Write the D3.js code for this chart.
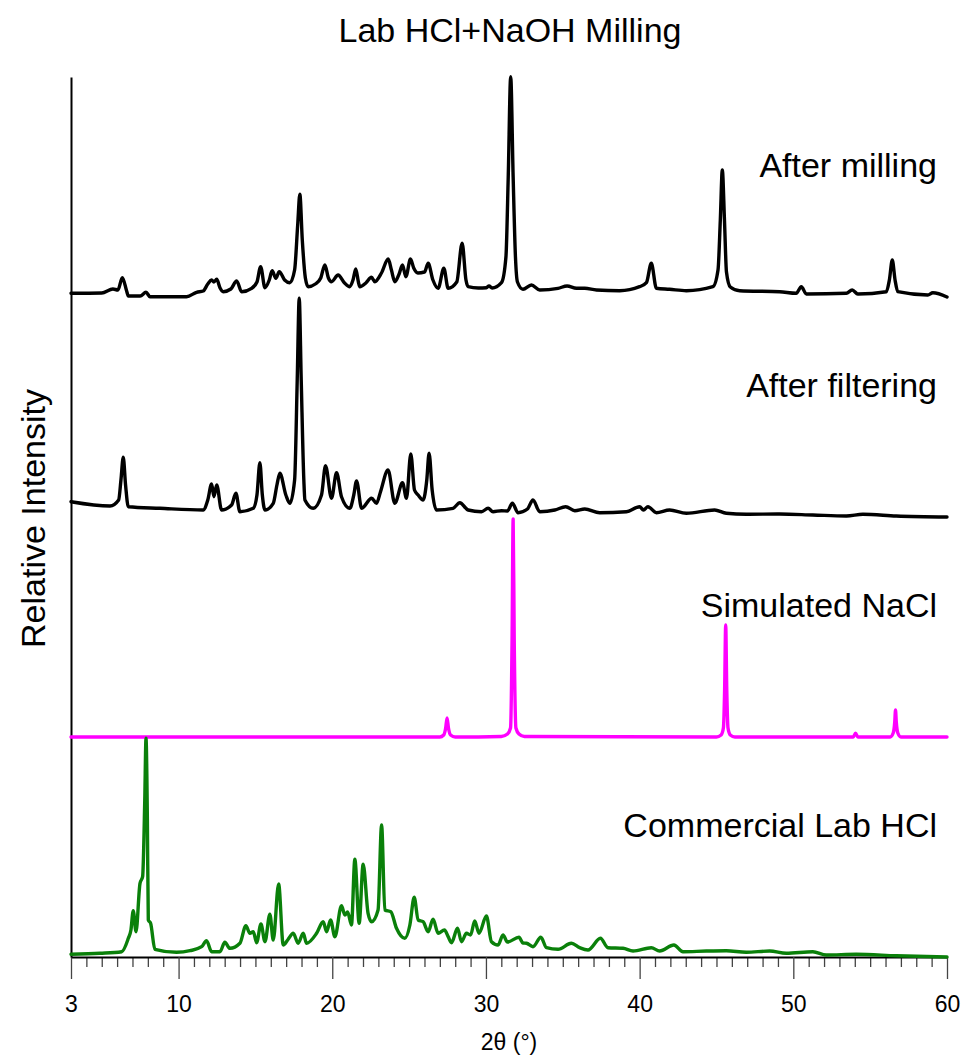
<!DOCTYPE html>
<html lang="en">
<head>
  <meta charset="UTF-8">
  <title>Lab HCl+NaOH Milling</title>
  <script src="https://d3js.org/d3.v7.min.js"></script>
  <style>
    body {
      margin: 0;
      background: #fff;
    }

    text {
      font-family: "Liberation Sans", Arial, sans-serif;
      fill: #000;
    }

    .trace {
      fill: none;
      stroke-width: 3.4;
      stroke-linejoin: round;
      stroke-linecap: round;
    }
  </style>
</head>
<body>
  <div id="chart"></div>

  <script>
    // 2θ (deg), intensity above each pattern's own baseline
    const millingData = [
      [3.0, 3.7], [5.0, 4], [5.73, 8], [6.05, 7], [6.34, 19.3], [6.62, 6], [6.73, 1],
      [7.5, 1], [7.88, 4.7], [8.14, 0.3], [10.52, 0.3], [11.17, 4.7], [11.6, 6],
      [11.9, 13], [12.15, 17], [12.3, 15], [12.48, 17.7], [12.7, 9], [12.9, 5.3],
      [13.4, 8], [13.78, 16], [14.1, 5.3], [14.75, 8.7], [15.1, 15], [15.34, 30.3],
      [15.62, 9.3], [15.9, 17], [16.09, 26.3], [16.33, 18.7], [16.55, 25.3], [16.9, 17],
      [17.24, 14.3], [17.55, 27], [17.75, 72], [17.89, 102.7], [18.05, 57], [18.25, 19],
      [18.43, 10.3], [18.9, 13], [19.25, 19], [19.52, 32], [19.75, 19], [19.95, 15.3],
      [20.38, 22], [20.8, 14], [21.14, 10.3], [21.35, 17], [21.53, 28], [21.7, 15],
      [21.79, 10.3], [22.2, 14.3], [22.55, 19.7], [22.77, 15.3], [23.2, 24], [23.64, 38],
      [23.85, 27], [24.07, 15.3], [24.35, 23], [24.57, 32], [24.79, 20.3], [25.09, 38],
      [25.3, 29], [25.57, 24], [26.0, 25], [26.24, 33.7], [26.55, 17], [26.89, 8.7],
      [27.26, 28.7], [27.54, 8.7], [28.1, 15], [28.45, 53.7], [28.7, 17], [28.84, 10.3],
      [29.5, 9], [30.03, 9.3], [30.2, 11], [30.4, 9], [31.01, 14.3], [31.3, 40],
      [31.45, 120], [31.61, 220.3], [31.77, 120], [31.92, 40], [32.05, 15], [32.41, 7.7],
      [32.96, 12], [33.5, 7], [34.69, 8.7], [35.28, 11], [35.89, 8.7], [36.43, 8.7],
      [37.19, 7], [38.7, 6.3], [40.0, 10.3], [40.44, 14.3], [40.76, 33.7], [41.09, 8.7],
      [41.95, 7.7], [43.04, 6.3], [44.77, 10.3], [45.1, 27], [45.25, 77], [45.38, 127],
      [45.52, 77], [45.65, 25], [45.9, 10], [46.51, 6.3], [49.11, 5.3], [50.19, 3.7],
      [50.52, 10.3], [50.85, 3], [53.45, 3.7], [53.83, 7], [54.2, 3], [56.05, 5.3],
      [56.25, 17], [56.44, 37], [56.62, 17], [56.8, 5.3], [58.75, 2], [59.08, 4.3],
      [60.0, 0]
    ];

    const filteringData = [
      [3.0, 15.3], [5.54, 11], [6.1, 17], [6.25, 37], [6.4, 59.7], [6.55, 32], [6.73, 10.3],
      [8.79, 8.7], [11.6, 7], [11.9, 17], [12.15, 33], [12.3, 20.3], [12.48, 32], [12.8, 7],
      [13.45, 12], [13.73, 23.7], [13.99, 5.3], [14.86, 8.7], [15.1, 22], [15.29, 54.3],
      [15.45, 22], [15.62, 7], [16.16, 13.7], [16.4, 32], [16.59, 43.7], [16.98, 22],
      [17.24, 13.7], [17.55, 37], [17.72, 137], [17.85, 218.7], [17.98, 137], [18.15, 37],
      [18.22, 17], [18.76, 8.7], [19.3, 22], [19.56, 51.3], [19.95, 18.7], [20.28, 44.3],
      [20.6, 20.3], [21.14, 8.7], [21.4, 22], [21.58, 36], [21.91, 8.7], [22.56, 18.7],
      [22.88, 13.7], [23.14, 25.3], [23.63, 47], [24.07, 13.7], [24.57, 34.3], [24.83, 18.7],
      [25.11, 63], [25.35, 27], [25.59, 22], [25.91, 17], [26.15, 37], [26.3, 63.7],
      [26.5, 27], [26.78, 7], [27.86, 8.7], [28.3, 14.3], [28.84, 7], [29.71, 5.3],
      [30.14, 8.7], [30.46, 5.3], [31.01, 6.3], [31.4, 6], [31.72, 13.7], [32.09, 4.3],
      [32.7, 8], [33.06, 17], [33.5, 5.3], [34.48, 7], [35.19, 10.3], [35.78, 6.3],
      [36.43, 8], [37.4, 4.3], [39.14, 5.3], [40.0, 10.3], [40.25, 7], [40.54, 10.3],
      [41.09, 4.3], [41.95, 7], [43.04, 3.7], [44.88, 7], [45.64, 3.7], [46.94, 2.7],
      [49.11, 3], [51.27, 2], [53.45, 1], [54.53, 2.7], [56.7, 1], [60.0, 0]
    ];

    const naclData = [
      [3.0, 0], [27.0, 0], [27.25, 2], [27.38, 9], [27.47, 19], [27.56, 9], [27.7, 2],
      [28.0, 0], [31.0, 0.5], [31.4, 3], [31.6, 9], [31.7, 97], [31.77, 218], [31.84, 97],
      [31.95, 9], [32.15, 3], [32.5, 0.5], [45.0, 0], [45.3, 2], [45.45, 9], [45.53, 47],
      [45.6, 112], [45.67, 47], [45.75, 9], [45.9, 2], [46.2, 0], [53.9, 0], [54.05, 3.7],
      [54.2, 0], [56.3, 0], [56.5, 4], [56.6, 15], [56.65, 27], [56.7, 15], [56.8, 4],
      [57.0, 0], [60.0, 0]
    ];

    const commercialData = [
      [3.0, 2.7], [4.89, 3.7], [6.3, 5.3], [6.73, 18.7], [6.9, 27], [7.05, 46.3],
      [7.23, 25.3], [7.49, 73.7], [7.66, 80.3], [7.8, 157], [7.88, 218.7], [7.97, 137],
      [8.03, 37], [8.18, 33.7], [8.46, 7.7], [9.87, 4.7], [10.74, 6.3], [11.5, 10.3],
      [11.82, 16.3], [12.15, 5.3], [12.69, 5.3], [13.01, 14.7], [13.34, 8.7], [13.99, 13.7],
      [14.38, 31.3], [14.64, 23.7], [14.86, 25.3], [15.08, 14.3], [15.36, 33], [15.62, 15.3],
      [15.94, 42.7], [16.16, 17], [16.51, 73], [16.81, 12], [17.1, 17], [17.46, 23.7],
      [17.78, 13.7], [18.11, 23.7], [18.33, 13.7], [18.98, 23.7], [19.41, 35.3],
      [19.63, 25.3], [19.89, 37], [20.17, 20.3], [20.6, 51.3], [20.82, 42], [21.0, 45],
      [21.25, 32], [21.47, 97.7], [21.75, 33.7], [22.01, 92.7], [22.33, 43.7], [22.56, 35.3],
      [22.98, 47], [23.21, 132], [23.42, 47], [23.81, 45.3], [24.18, 28.7], [24.72, 18.7],
      [25.05, 32], [25.33, 59.7], [25.59, 37], [25.91, 35.3], [26.24, 25.3], [26.56, 37.7],
      [26.89, 23.7], [27.3, 27], [27.54, 20.3], [27.76, 14.3], [28.15, 28.7], [28.41, 15.3],
      [28.73, 23.7], [29.0, 22], [29.27, 36], [29.55, 23.7], [30.03, 41], [30.36, 15.3],
      [30.79, 12], [31.11, 22], [31.4, 15], [32.15, 19.7], [32.41, 14], [32.64, 13.7],
      [33.06, 10.3], [33.57, 19.7], [33.94, 9.3], [34.69, 7.7], [35.56, 13.7], [36.1, 9.3],
      [36.64, 7], [37.45, 18.7], [37.94, 9.3], [38.92, 8.7], [39.57, 6], [40.76, 9.3],
      [41.3, 6], [42.23, 12], [42.82, 5.3], [44.34, 6], [45.64, 6.3], [46.94, 4.7],
      [48.46, 6], [49.54, 3.7], [51.27, 5.3], [52.14, 2], [54.09, 2.7], [56.7, 1.3],
      [60.0, 0]
    ];

    const seriesNames = ["After milling", "After filtering", "Simulated NaCl", "Commercial Lab HCl"];
    const seriesOffsets = [660, 440, 220, 0];
    const seriesColors = ["#000000", "#000000", "#ff00ff", "#0a800a"];
    const seriesData = [millingData, filteringData, naclData, commercialData];

    const majorTicks = [3, 10, 20, 30, 40, 50, 60];
    const minorTicks = d3.range(4, 60).filter(d => d % 10 !== 0);

    const width = 969;
    const height = 1056;
    const margin = { top: 77, right: 22, bottom: 99, left: 71 };

    const svg = d3.select("#chart")
      .append("svg")
      .attr("width", width)
      .attr("height", height);

    const xScale = d3.scaleLinear()
      .domain([3, 60])
      .range([margin.left, width - margin.right]);

    const yScale = d3.scaleLinear()
      .domain([0, 880])
      .range([height - margin.bottom, margin.top]);

    // minor ticks first, then the major axis on top
    svg.append("g")
      .attr("transform", `translate(0, ${height - margin.bottom})`)
      .call(d3.axisBottom(xScale).tickValues(minorTicks).tickSize(10).tickFormat(""))
      .call(g => g.select(".domain").remove())
      .call(g => g.selectAll(".tick line").attr("stroke", "#444").attr("stroke-width", 1.3));

    const xAxis = svg.append("g")
      .attr("transform", `translate(0, ${height - margin.bottom})`)
      .call(d3.axisBottom(xScale).tickValues(majorTicks).tickSize(22).tickPadding(17)
        .tickFormat(d3.format("d")).tickSizeOuter(0));

    xAxis.select(".domain").attr("stroke", "#000").attr("stroke-width", 2);
    xAxis.selectAll(".tick line").attr("stroke", "#444").attr("stroke-width", 1.3);
    xAxis.selectAll(".tick text")
      .style("font-family", "'Liberation Sans', Arial, sans-serif")
      .style("font-size", "23px")
      .attr("fill", "#000");

    const yAxis = svg.append("g")
      .attr("transform", `translate(${margin.left}, 0)`)
      .call(d3.axisLeft(yScale).tickValues([]).tickSizeOuter(0));

    yAxis.select(".domain").attr("stroke", "#000").attr("stroke-width", 2);

    const line = d3.line()
      .curve(d3.curveMonotoneX)
      .x(d => xScale(d[0]))
      .y(d => yScale(d[1]));

    seriesData.forEach((data, i) => {
      svg.append("path")
        .datum(data.map(d => [d[0], d[1] + seriesOffsets[i]]))
        .attr("class", "trace")
        .attr("stroke", seriesColors[i])
        .attr("d", line);

      svg.append("text")
        .attr("x", xScale(60) - 10)
        .attr("y", yScale(seriesOffsets[i] + 120))
        .attr("text-anchor", "end")
        .style("font-size", "34px")
        .text(seriesNames[i]);
    });

    svg.append("text")
      .attr("x", 510)
      .attr("y", 42)
      .attr("text-anchor", "middle")
      .style("font-size", "34px")
      .text("Lab HCl+NaOH Milling");

    svg.append("text")
      .attr("transform", `translate(45, ${(margin.top + height - margin.bottom) / 2 + 1.5}) rotate(-90)`)
      .attr("text-anchor", "middle")
      .style("font-size", "34px")
      .text("Relative Intensity");

    svg.append("text")
      .attr("x", (margin.left + width - margin.right) / 2)
      .attr("y", 1050)
      .attr("text-anchor", "middle")
      .style("font-size", "23px")
      .text("2θ (°)");
  </script>
</body>
</html>
